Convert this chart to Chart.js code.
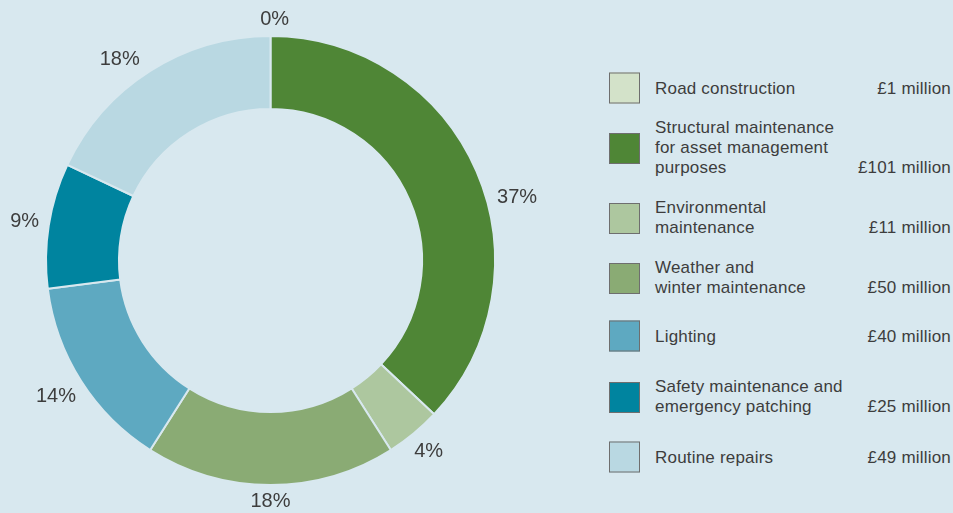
<!DOCTYPE html>
<html lang="en">
<head>
<meta charset="UTF-8" />
<title>Maintenance spending by category</title>
<script src="https://cdn.jsdelivr.net/npm/chart.js"></script>
<style>
  html, body { margin: 0; padding: 0; }
  body {
    width: 953px;
    height: 513px;
    background: #d8e8ef;
    position: relative;
    overflow: hidden;
    font-family: "Liberation Sans", Arial, sans-serif;
    color: #3d3d3d;
  }
  .chart-box { position: absolute; left: 0; top: 0; width: 541px; height: 513px; }
  #legend { position: absolute; left: 609px; top: 0; width: 342px; height: 513px; }
  .row {
    position: absolute;
    left: 0;
    right: 0;
    display: flex;
    align-items: center;
    transform: translateY(-50%);
  }
  .swatch { width: 29px; height: 29px; border: 1.3px solid #6e6e6e; flex: none; }
  .text { margin-left: 15px; flex: 1; display: flex; align-items: flex-end; }
  .name, .amount { font-size: 17px; line-height: 20px; letter-spacing: 0.2px; }
  .name { flex: 1; }
</style>
</head>
<body>
  <div class="chart-box"><canvas id="spendChart"></canvas></div>
  <div id="legend"></div>

<script>
  // Categories (legend lines), spend in £ million and share of total in %
  const categories = [
    ['Road construction'],
    ['Structural maintenance', 'for asset management', 'purposes'],
    ['Environmental', 'maintenance'],
    ['Weather and', 'winter maintenance'],
    ['Lighting'],
    ['Safety maintenance and', 'emergency patching'],
    ['Routine repairs']
  ];
  const spendMillions = [1, 101, 11, 50, 40, 25, 49];
  const shares = [0, 37, 4, 18, 14, 9, 18];

  const sliceColours = ['#d3e2c9', '#4f8636', '#adc79f', '#8aab74', '#5ea9c1', '#00849f', '#b9d8e2'];
  // vertical centre of each legend row, and small angle nudges (deg) for the % labels
  const legendRowCentres = [88, 148, 218, 278, 336, 397, 457];
  const labelNudge = [1, 9, 0, 0, 0, 0, -4.5];

  // Legend with amounts, amount sits on the last text line
  const legend = document.getElementById('legend');
  categories.forEach((lines, i) => {
    const row = document.createElement('div');
    row.className = 'row';
    row.style.top = legendRowCentres[i] + 'px';
    row.innerHTML =
      '<div class="swatch" style="background:' + sliceColours[i] + '"></div>' +
      '<div class="text"><div class="name">' + lines.join('<br>') + '</div>' +
      '<div class="amount">£' + spendMillions[i] + ' million</div></div>';
    legend.appendChild(row);
  });

  // Percentage labels outside the ring
  const shareLabels = {
    id: 'shareLabels',
    afterDatasetsDraw(chart) {
      const ctx = chart.ctx;
      const meta = chart.getDatasetMeta(0);
      ctx.save();
      ctx.font = '20px "Liberation Sans", Arial, sans-serif';
      ctx.fillStyle = '#3d3d3d';
      ctx.textAlign = 'center';
      ctx.textBaseline = 'middle';
      meta.data.forEach((arc, i) => {
        const p = arc.getProps(['x', 'y', 'startAngle', 'endAngle', 'outerRadius'], true);
        const a = (p.startAngle + p.endAngle) / 2 + labelNudge[i] * Math.PI / 180;
        const text = shares[i] + '%';
        const w = ctx.measureText(text).width;
        const h = 14;
        const cos = Math.cos(a), sin = Math.sin(a);
        const r = p.outerRadius + 9 + Math.abs(cos) * w / 2 + Math.abs(sin) * h / 2;
        ctx.fillText(text, p.x + cos * r, p.y + sin * r);
      });
      ctx.restore();
    }
  };

  new Chart(document.getElementById('spendChart'), {
    type: 'doughnut',
    data: {
      labels: categories.map(l => l.join(' ')),
      datasets: [{
        data: shares,
        backgroundColor: sliceColours,
        borderColor: '#d8e8ef',
        borderWidth: 2
      }]
    },
    options: {
      responsive: true,
      maintainAspectRatio: false,
      animation: false,
      cutout: '67.5%',
      layout: { padding: { top: 35, bottom: 27, left: 45, right: 45 } },
      plugins: {
        legend: { display: false },
        tooltip: { enabled: false }
      }
    },
    plugins: [shareLabels]
  });
</script>
</body>
</html>
